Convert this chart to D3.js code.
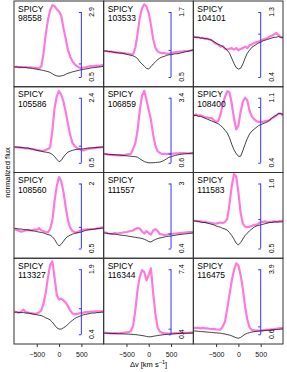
<!DOCTYPE html>
<html>
<head>
<meta charset="utf-8">
<script src="https://cdn.jsdelivr.net/npm/d3@7"></script>
<style>
  body { margin: 0; background: #fff; }
  svg { display: block; font-family: "Liberation Sans", Arial, sans-serif; }
  .frame { fill: none; stroke: #333; stroke-width: 1; }
  .em { fill: none; stroke: #ff6ad8; stroke-width: 2.2; stroke-opacity: 0.9; stroke-linejoin: round; }
  .abs { fill: none; stroke: #111; stroke-width: 0.8; }
  .bar { stroke: #3535ff; stroke-width: 1; }
</style>
</head>
<body>
<div id="chart"></div>
<script>
// velocity grid, km/s
var vel = [-1000,-950,-900,-850,-800,-750,-700,-650,-600,-550,-500,-450,-400,-350,-300,-250,-200,-150,-100,-50,
    0,50,100,150,200,250,300,350,400,450,500,550,600,650,700,750,800,850,900,950,1000];

var ids = ["98558","103533","104101","105586","106859","108400","108560","111557","111583","113327","116344","116475"];
var yLo = [0.5, 0.5, 0.4, 0.5, 0.6, 0.4, 0.5, 0.4, 0.5, 0.4, 0.4, 0.6];
var yHi = [2.9, 1.7, 1.3, 2.4, 3.4, 1.1, 2, 3, 1.6, 1.9, 7.4, 3.9];
var xTicks = [-500, 0, 500];

// black: absorption line profile
var absFlux = [
  [0.87,0.87,0.86,0.86,0.85,0.85,0.84,0.83,0.82,0.8,0.79,0.77,0.76,0.74,0.72,0.7,0.67,0.62,0.57,0.54,0.53,0.54,0.56,0.6,0.64,0.66,0.69,0.71,0.73,0.75,0.77,0.78,0.8,0.81,0.83,0.84,0.85,0.86,0.87,0.88,0.9],
  [0.98,0.98,0.97,0.97,0.96,0.95,0.95,0.94,0.94,0.93,0.92,0.91,0.9,0.89,0.87,0.84,0.78,0.74,0.7,0.66,0.65,0.69,0.74,0.78,0.82,0.85,0.87,0.88,0.9,0.91,0.91,0.92,0.93,0.93,0.94,0.95,0.96,0.97,0.98,0.99,1.0],
  [0.95,0.95,0.95,0.94,0.94,0.93,0.93,0.92,0.91,0.89,0.87,0.85,0.84,0.82,0.8,0.77,0.73,0.66,0.59,0.53,0.51,0.52,0.58,0.66,0.73,0.77,0.81,0.83,0.85,0.87,0.88,0.9,0.91,0.92,0.93,0.94,0.95,0.95,0.96,0.95,0.95],
  [0.96,0.96,0.95,0.95,0.94,0.93,0.93,0.91,0.9,0.88,0.86,0.85,0.84,0.82,0.81,0.8,0.78,0.74,0.68,0.6,0.53,0.57,0.67,0.75,0.81,0.84,0.86,0.88,0.89,0.9,0.9,0.91,0.92,0.93,0.93,0.94,0.94,0.95,0.95,0.96,0.96],
  [0.98,0.97,0.96,0.96,0.95,0.94,0.94,0.93,0.92,0.91,0.9,0.89,0.88,0.87,0.86,0.84,0.77,0.71,0.65,0.62,0.6,0.6,0.6,0.61,0.62,0.63,0.66,0.71,0.77,0.83,0.86,0.89,0.92,0.94,0.96,0.97,0.98,0.99,1.0,1.01,1.02],
  [0.91,0.91,0.9,0.9,0.89,0.88,0.87,0.86,0.85,0.84,0.83,0.82,0.8,0.78,0.75,0.72,0.67,0.6,0.54,0.5,0.47,0.47,0.53,0.6,0.66,0.71,0.74,0.76,0.78,0.8,0.81,0.82,0.83,0.84,0.86,0.88,0.9,0.91,0.93,0.93,0.92],
  [0.97,0.96,0.95,0.95,0.94,0.93,0.93,0.92,0.91,0.9,0.89,0.88,0.87,0.86,0.84,0.82,0.81,0.77,0.71,0.62,0.56,0.6,0.67,0.74,0.78,0.81,0.83,0.85,0.86,0.87,0.88,0.9,0.92,0.93,0.94,0.94,0.95,0.96,0.96,0.97,0.97],
  [1.02,1.01,1.0,0.99,0.98,0.97,0.96,0.94,0.93,0.92,0.91,0.89,0.88,0.86,0.85,0.83,0.82,0.8,0.77,0.73,0.68,0.66,0.72,0.76,0.8,0.82,0.84,0.86,0.88,0.89,0.9,0.92,0.93,0.95,0.96,0.97,0.98,0.99,1.0,1.01,1.02],
  [0.97,0.96,0.96,0.95,0.94,0.94,0.93,0.92,0.91,0.9,0.88,0.87,0.86,0.84,0.83,0.81,0.77,0.72,0.66,0.59,0.56,0.6,0.66,0.72,0.76,0.8,0.83,0.86,0.88,0.89,0.9,0.91,0.92,0.93,0.94,0.94,0.95,0.95,0.95,0.95,0.95],
  [0.91,0.91,0.9,0.9,0.9,0.89,0.89,0.88,0.87,0.86,0.85,0.84,0.83,0.81,0.78,0.76,0.73,0.68,0.61,0.55,0.52,0.52,0.55,0.58,0.63,0.68,0.72,0.76,0.79,0.81,0.83,0.85,0.86,0.87,0.88,0.89,0.89,0.9,0.9,0.91,0.91],
  [0.52,0.51,0.5,0.49,0.48,0.47,0.46,0.45,0.44,0.43,0.42,0.41,0.4,0.38,0.36,0.33,0.3,0.26,0.22,0.16,0.12,0.13,0.18,0.22,0.26,0.3,0.33,0.36,0.38,0.4,0.42,0.44,0.46,0.47,0.48,0.49,0.5,0.51,0.52,0.53,0.53],
  [0.77,0.76,0.75,0.74,0.73,0.72,0.71,0.7,0.69,0.68,0.67,0.66,0.65,0.63,0.61,0.58,0.56,0.52,0.47,0.42,0.4,0.44,0.52,0.6,0.65,0.68,0.71,0.73,0.75,0.76,0.77,0.78,0.79,0.8,0.81,0.82,0.83,0.84,0.85,0.86,0.87]
];

// magenta: emission line profile
var emFlux = [
  [0.87,0.88,0.86,0.87,0.86,0.87,0.85,0.86,0.85,0.84,0.83,0.82,0.88,1.35,2.05,2.6,2.97,3.15,3.12,3.0,2.92,2.75,2.3,1.9,1.5,1.25,1.08,0.97,0.9,0.85,0.83,0.85,0.86,0.88,0.9,0.89,0.91,0.92,0.91,0.93,0.94],
  [0.98,0.98,0.97,0.97,0.96,0.96,0.95,0.95,0.94,0.94,0.93,0.93,0.92,0.92,1.04,1.3,1.6,1.77,1.84,1.8,1.68,1.46,1.2,1.04,0.97,0.95,0.94,0.94,0.93,0.93,0.94,0.95,0.96,0.96,0.97,0.97,0.98,0.98,0.98,0.99,1.0],
  [0.96,0.95,0.95,0.94,0.94,0.93,0.93,0.92,0.91,0.88,0.86,0.85,0.82,0.83,0.79,0.78,0.79,0.8,0.78,0.8,0.77,0.79,0.8,0.82,0.8,0.84,0.85,0.87,0.88,0.89,0.9,0.92,0.93,0.94,0.96,0.97,0.99,1.01,0.98,0.95,0.94],
  [0.96,0.95,0.95,0.94,0.93,0.92,0.92,0.91,0.9,0.89,0.88,0.86,0.85,0.85,0.87,0.9,0.95,1.45,2.1,2.45,2.6,2.48,2.28,1.98,1.63,1.31,1.08,0.99,0.93,0.9,0.87,0.86,0.89,0.9,0.92,0.92,0.93,0.94,0.95,0.95,0.96],
  [0.98,0.97,0.95,0.94,0.93,0.93,0.92,0.93,0.92,0.93,0.95,0.97,0.98,1.2,1.45,2.0,2.87,3.5,3.7,3.3,2.87,2.44,1.8,1.32,1.1,1.02,0.98,0.98,0.97,0.98,0.98,0.99,1.0,1.01,1.02,1.02,1.02,1.01,1.0,1.0,1.0],
  [0.91,0.92,0.91,0.91,0.9,0.89,0.89,0.88,0.88,0.86,0.84,0.85,0.92,1.03,1.11,1.17,1.16,1.04,0.88,0.76,0.8,0.95,1.06,1.1,1.07,0.96,0.9,0.87,0.85,0.84,0.84,0.84,0.85,0.85,0.86,0.88,0.89,0.91,0.93,0.93,0.91],
  [0.95,0.93,0.91,0.89,0.9,0.92,0.93,0.92,0.92,0.94,0.93,0.97,0.92,0.9,0.88,0.87,0.95,1.15,1.6,1.95,2.15,2.05,1.8,1.45,1.15,0.98,0.9,0.88,0.87,0.9,0.92,0.93,0.94,0.94,0.94,0.95,0.95,0.96,0.97,0.98,0.99],
  [1.06,1.03,1.0,0.98,1.0,1.02,1.0,1.02,1.03,1.05,1.06,1.08,1.1,1.12,1.18,1.22,1.2,1.08,1.0,1.1,1.02,0.96,1.12,1.18,1.1,0.98,0.96,0.94,0.95,0.97,0.98,0.99,1.0,1.01,1.02,1.03,1.04,1.05,1.06,1.06,1.06],
  [0.97,0.97,0.96,0.96,0.95,0.95,0.94,0.94,0.93,0.92,0.92,0.93,0.94,0.93,0.95,1.0,1.25,1.55,1.76,1.72,1.45,1.1,0.92,0.87,0.86,0.87,0.88,0.9,0.9,0.92,0.95,0.95,0.96,0.94,0.95,0.95,0.96,0.95,0.96,0.97,0.97],
  [0.92,0.91,0.9,0.92,0.97,0.91,0.9,0.89,0.88,0.87,0.88,0.9,0.95,1.1,1.35,1.7,2.0,2.08,1.7,1.3,1.2,1.22,1.18,1.13,1.05,0.95,0.88,0.86,0.87,0.88,0.89,0.9,0.91,0.91,0.92,0.92,0.93,0.93,0.93,0.93,0.93],
  [0.55,0.55,0.53,0.5,0.5,0.52,0.5,0.52,0.55,0.57,0.6,0.62,0.75,1.3,3.0,5.2,6.6,7.3,7.1,6.2,6.8,7.5,4.8,2.6,1.1,0.7,0.55,0.5,0.5,0.48,0.48,0.5,0.52,0.52,0.53,0.55,0.55,0.55,0.56,0.57,0.57],
  [0.92,0.92,0.92,0.9,0.92,0.9,0.9,0.88,0.86,0.87,0.85,0.84,0.83,1.0,1.25,1.9,2.6,3.3,3.85,4.2,4.1,3.6,2.9,2.0,1.35,0.95,0.82,0.8,0.78,0.78,0.78,0.8,0.82,0.83,0.84,0.85,0.86,0.88,0.9,0.91,0.92]
];

var margin = {top: 1, left: 14},
    W = 287, H = 372,
    pw = 89.67, ph = 85.75,
    ncol = 3;

var svg = d3.select("#chart").append("svg")
    .attr("width", W)
    .attr("height", H);

var x = d3.scaleLinear().domain([-1010, 1000]).range([0, pw]);

var panels = svg.selectAll("g.panel")
    .data(ids)
    .enter().append("g")
    .attr("class", "panel")
    .attr("transform", function(d, i) {
        return "translate(" + (margin.left + (i % ncol) * pw) + "," + (margin.top + Math.floor(i / ncol) * ph) + ")";
    });

panels.append("clipPath")
    .attr("id", function(d, i) { return "clip" + i; })
    .append("rect")
    .attr("width", pw)
    .attr("height", ph);

panels.each(function(id, i) {
    var g = d3.select(this);
    var y = d3.scaleLinear().domain([yLo[i], yHi[i]]).range([76, 11]);
    var line = d3.line()
        .x(function(d, k) { return x(vel[k]); })
        .y(function(d) { return y(d); });

    var plot = g.append("g").attr("clip-path", "url(#clip" + i + ")");
    plot.append("path").attr("class", "em").attr("d", line(emFlux[i]));
    plot.append("path").attr("class", "abs").attr("d", line(absFlux[i]));

    // blue flux scale bar at +500 km/s
    var bx = x(500);
    var yAxis = d3.axisLeft(y)
        .tickValues([yLo[i], 1, yHi[i]])
        .tickSize(2.5)
        .tickFormat("");
    var ax = g.append("g")
        .attr("transform", "translate(" + bx + ",0)")
        .call(yAxis);
    ax.select(".domain").remove();
    ax.selectAll("line").attr("stroke", "#3535ff");
    g.append("line")
        .attr("class", "bar")
        .attr("x1", bx).attr("x2", bx)
        .attr("y1", y(yLo[i])).attr("y2", y(yHi[i]));

    [yLo[i], yHi[i]].forEach(function(v) {
        g.append("text")
            .attr("transform", "translate(" + (bx + 10.5) + "," + y(v) + ") rotate(-90)")
            .attr("text-anchor", "middle")
            .attr("dominant-baseline", "central")
            .style("font-size", "7px")
            .text(v);
    });

    g.append("text").attr("x", 4).attr("y", 10.5)
        .style("font-size", "8.5px").text("SPICY");
    g.append("text").attr("x", 4).attr("y", 20)
        .style("font-size", "8.5px").text(id);

    g.append("rect").attr("class", "frame")
        .attr("width", pw).attr("height", ph);

    if (Math.floor(i / ncol) === 3) {
        var xAxis = d3.axisBottom(x)
            .tickValues(xTicks)
            .tickSize(3)
            .tickFormat(function(d) { return d < 0 ? "\u2212" + Math.abs(d) : d; });
        var xa = g.append("g")
            .attr("transform", "translate(0," + ph + ")")
            .call(xAxis);
        xa.select(".domain").remove();
        xa.selectAll("line").attr("stroke", "#333");
        xa.selectAll("text")
            .attr("dy", null)
            .attr("y", 12.5)
            .style("font-size", "7px")
            .style("font-family", "Liberation Sans, Arial, sans-serif")
            .attr("fill", "#111");
    }
});

// axis titles
var xt = svg.append("text")
    .attr("x", margin.left + 1.5 * pw)
    .attr("y", 367)
    .attr("text-anchor", "middle")
    .style("font-size", "7.5px");
xt.append("tspan").text("\u0394v [km s");
xt.append("tspan").attr("dy", -3).style("font-size", "5.5px").text("\u22121");
xt.append("tspan").attr("dy", 3).text("]");

svg.append("text")
    .attr("transform", "translate(7," + (margin.top + 2 * ph) + ") rotate(-90)")
    .attr("text-anchor", "middle")
    .attr("dominant-baseline", "central")
    .style("font-size", "7.5px")
    .text("normalized flux");
</script>
</body>
</html>
